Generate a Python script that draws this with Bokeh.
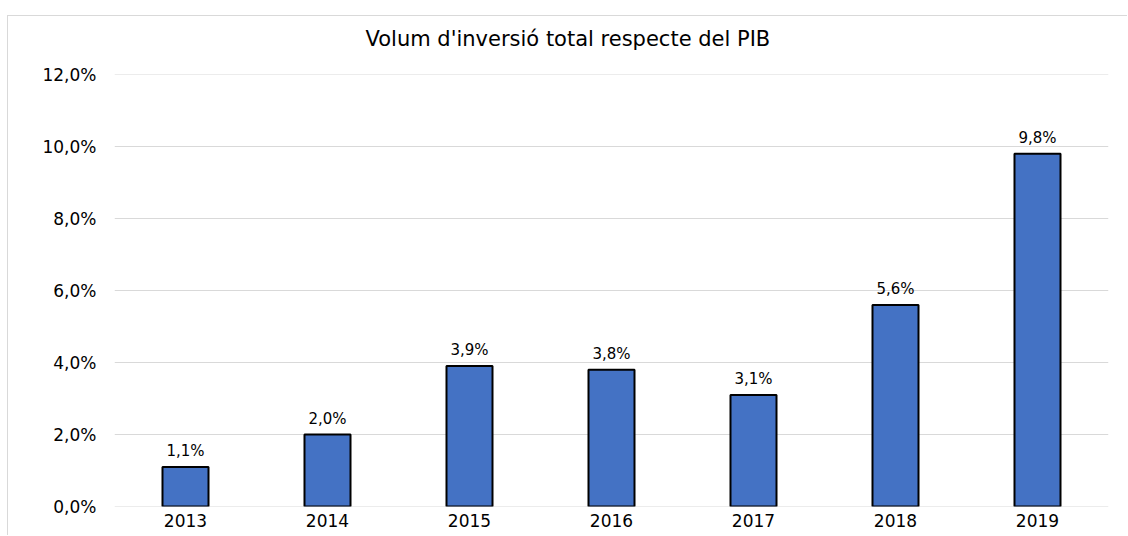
from bokeh.plotting import figure
from bokeh.models import ColumnDataSource, FixedTicker, CustomJSTickFormatter, Span, Title
from bokeh.core.properties import value
from bokeh.embed import file_html
from bokeh.resources import INLINE

years = ["2013", "2014", "2015", "2016", "2017", "2018", "2019"]
values = [1.1, 2.0, 3.9, 3.8, 3.1, 5.6, 9.8]
y_ticks = [0, 2, 4, 6, 8, 10, 12]
title_text = "Volum d'inversió  total respecte del PIB"

labels = [f"{v:.1f}".replace(".", ",") + "%" for v in values]
src = ColumnDataSource(dict(x=years, top=values, label=labels))

FONT = "DejaVu Sans"
GRID = "#d9d9d9"

p = figure(x_range=years, y_range=(y_ticks[0], y_ticks[-1]), width=1120, height=520,
           output_backend="svg", toolbar_location=None,
           min_border_left=106, min_border_right=20,
           min_border_top=58, min_border_bottom=30)
# light grey chart-area border (top and left edges visible in the reference)
p.styles = {"margin-top": "15px", "margin-left": "7px",
            "border-top": "1px solid " + GRID, "border-left": "1px solid " + GRID}

p.title = Title(text=title_text, align="left", offset=251,
                text_font=FONT, text_font_size="21px", text_font_style="normal",
                text_color="#000000", vertical_align="top", standoff=10)
# small empty spacer between the title and the plot area
p.add_layout(Title(text=" ", text_font_size="5px", standoff=9), "above")

# grid lines at the range ends (Bokeh's grid skips them)
for t in (y_ticks[0], y_ticks[-1]):
    p.add_layout(Span(location=t, dimension="width", line_color=GRID,
                      line_width=1, level="underlay"))

p.vbar(x="x", top="top", width=0.324, source=src,
       fill_color="#4472C4", line_color="#000000", line_width=2)

p.text(x="x", y="top", text="label", source=src,
       text_font=value(FONT), text_font_size="15px", text_color="#000000",
       text_align="center", text_baseline="bottom", y_offset=-7)

p.outline_line_color = None
p.background_fill_color = "white"
p.border_fill_color = "white"

p.xgrid.grid_line_color = None
p.ygrid.grid_line_color = GRID
p.ygrid.grid_line_width = 1

p.yaxis.ticker = FixedTicker(ticks=y_ticks)
p.yaxis.formatter = CustomJSTickFormatter(code="return tick.toFixed(1).replace('.', ',') + '%';")
for ax in (p.xaxis, p.yaxis):
    ax.axis_line_color = None
    ax.major_tick_line_color = None
    ax.minor_tick_line_color = None
    ax.major_tick_out = 0
    ax.major_tick_in = 0
    ax.major_label_text_font = FONT
    ax.major_label_text_font_size = "17px"
    ax.major_label_text_color = "#000000"
p.yaxis.major_label_standoff = 18
p.xaxis.major_label_standoff = 7

open("out.html", "w").write(file_html(p, INLINE))
